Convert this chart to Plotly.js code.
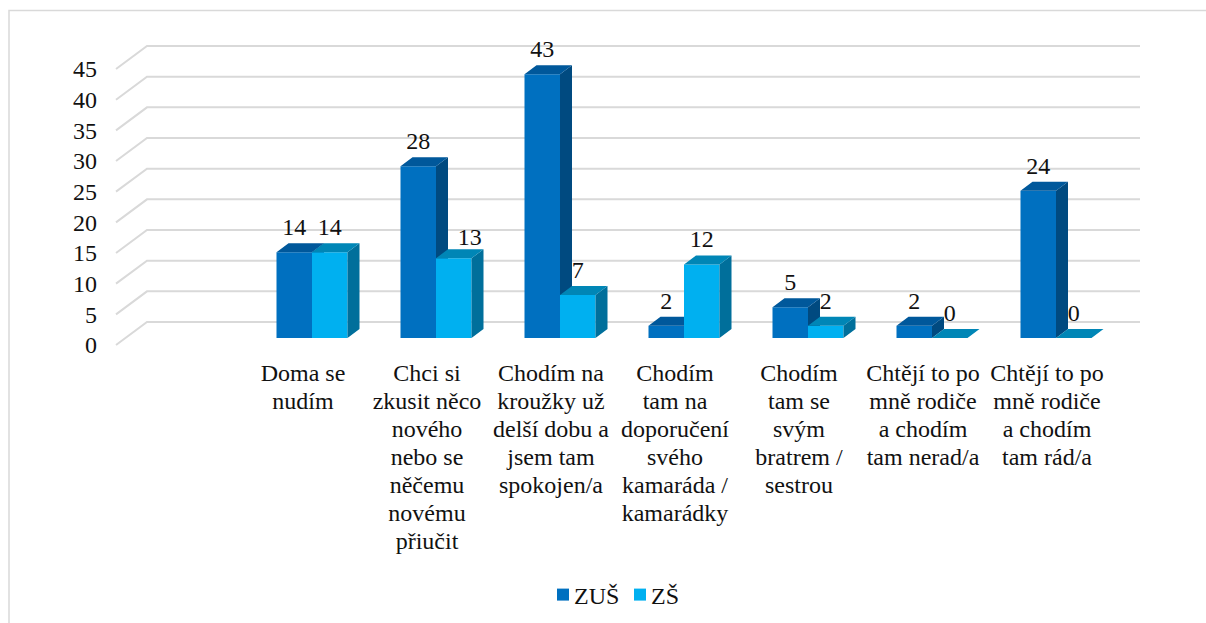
<!DOCTYPE html>
<html><head><meta charset="utf-8">
<script src="https://cdn.plot.ly/plotly-3.0.1.min.js"></script>
<style>html,body{margin:0;padding:0;background:#fff}#c{width:1206px;height:623px}</style>
</head><body><div id="c"></div>
<script>
const categories = [
  ["Doma se", "nudím"],
  ["Chci si", "zkusit něco", "nového", "nebo se", "něčemu", "novému", "přiučit"],
  ["Chodím na", "kroužky už", "delší dobu a", "jsem tam", "spokojen/a"],
  ["Chodím", "tam na", "doporučení", "svého", "kamaráda /", "kamarádky"],
  ["Chodím", "tam se", "svým", "bratrem /", "sestrou"],
  ["Chtějí to po", "mně rodiče", "a chodím", "tam nerad/a"],
  ["Chtějí to po", "mně rodiče", "a chodím", "tam rád/a"]
];
const zus = [14, 28, 43, 2, 5, 2, 24];
const zs = [14, 13, 7, 12, 2, 0, 0];
const valueTicks = [0, 5, 10, 15, 20, 25, 30, 35, 40, 45];

// page geometry (pixels), turned into axis ranges below
const W = 1206, H = 623, pxCat = 124, pxVal = 6.133, x0 = 312;
const barBase = 338, wallBase = 345;
const barW = 35.5 / pxCat, depthX = 12 / pxCat, depthY = 9 / pxVal;
const wallDepthX = 31 / pxCat, wallDepthY = 23 / pxVal;
const wallLeft = (116 - x0) / pxCat, wallRight = (1140 - x0) / pxCat;
const labelLift = 23 / pxVal, catLabelShift = -9 / pxCat;
const catFirstLine = 374.5, catLineStep = 28;
const xRange = [-x0 / pxCat, (W - x0) / pxCat];
const yRange = base => [-(H - base) / pxVal, base / pxVal];
const font = "'Liberation Serif','Times New Roman',serif";
const textColor = '#111', fontSize = 24;
const idx = categories.map((_, i) => i);

function poly(vals, offset, faceFn) {
  const xs = [], ys = [];
  vals.forEach((v, i) => {
    faceFn(i + offset, v).forEach(p => { xs.push(p[0]); ys.push(p[1]); });
    xs.push(null); ys.push(null);
  });
  return {xs, ys};
}
const sideFace = (l, v) => [[l + barW, 0], [l + barW, v], [l + barW + depthX, v + depthY], [l + barW + depthX, depthY], [l + barW, 0]];
const topFace = (l, v) => [[l, v], [l + barW, v], [l + barW + depthX, v + depthY], [l + depthX, v + depthY], [l, v]];

function faceTrace(vals, offset, fn, color, yaxis) {
  const p = poly(vals, offset, fn);
  return {type: 'scatter', mode: 'lines', x: p.xs, y: p.ys, xaxis: 'x', yaxis, fill: 'toself', fillcolor: color,
    line: {width: 0, color}, hoverinfo: 'skip', showlegend: false};
}
function barTrace(name, vals, offset, color, yaxis) {
  return {type: 'bar', name, x: idx, y: vals, width: barW, offset, xaxis: 'x', yaxis,
    marker: {color, line: {width: 0}}, hoverinfo: 'x+y'};
}
function labelTrace(vals, offset, nudgeX, nudgeY) {
  return {type: 'scatter', mode: 'text', xaxis: 'x', yaxis: 'y3', showlegend: false, hoverinfo: 'skip',
    x: vals.map((v, i) => i + offset + barW / 2 + (nudgeX[i] || 0)),
    y: vals.map((v, i) => v + labelLift - (nudgeY[i] || 0)),
    text: vals.map(String), textposition: 'middle center', cliponaxis: false,
    textfont: {family: font, size: fontSize, color: textColor}};
}

const gridX = [], gridY = [];
valueTicks.forEach(v => {
  gridX.push(wallLeft, wallLeft + wallDepthX, wallRight, null);
  gridY.push(v, v + wallDepthY, v + wallDepthY, null);
});

const catX = [], catY = [], catT = [];
categories.forEach((lines, i) => lines.forEach((t, k) => {
  catX.push(i + catLabelShift);
  catY.push((barBase - (catFirstLine + k * catLineStep)) / pxVal);
  catT.push(t);
}));

const traces = [
  {type: 'scatter', mode: 'lines', x: gridX, y: gridY, xaxis: 'x', yaxis: 'y',
   line: {color: '#d9d9d9', width: 2}, hoverinfo: 'skip', showlegend: false},
  barTrace('ZUŠ', zus, -barW, '#0070C0', 'y2'),
  faceTrace(zus, -barW, sideFace, '#004A80', 'y2'),
  faceTrace(zus, -barW, topFace, '#00589B', 'y2'),
  barTrace('ZŠ', zs, 0, '#00B0F0', 'y3'),
  faceTrace(zs, 0, sideFace, '#006F9B', 'y3'),
  faceTrace(zs, 0, topFace, '#0086B6', 'y3'),
  labelTrace(zus, -barW, {}, {}),
  labelTrace(zs, 0, {1: 16 / pxCat}, {1: 4 / pxVal}),
  {type: 'scatter', mode: 'text', x: catX, y: catY, text: catT, xaxis: 'x', yaxis: 'y3', showlegend: false,
   hoverinfo: 'skip', textposition: 'middle center', cliponaxis: false,
   textfont: {family: font, size: fontSize, color: textColor}}
];

const layout = {
  width: W, height: H, margin: {l: 0, r: 0, t: 0, b: 0},
  paper_bgcolor: '#fff', plot_bgcolor: 'rgba(0,0,0,0)',
  showlegend: true,
  legend: {orientation: 'h', x: 618 / W, xanchor: 'center', y: (H - 595) / H, yanchor: 'middle',
    bgcolor: 'rgba(0,0,0,0)', font: {family: font, size: fontSize, color: textColor}},
  xaxis: {range: xRange, visible: false},
  yaxis: {range: yRange(wallBase), anchor: 'free', position: 97 / W, showgrid: false, zeroline: false, showline: false,
    tickmode: 'array', tickvals: valueTicks, ticks: '', tickfont: {family: font, size: fontSize, color: textColor}},
  yaxis2: {range: yRange(barBase), overlaying: 'y', visible: false},
  yaxis3: {range: yRange(barBase), overlaying: 'y', visible: false},
  shapes: [{type: 'path', xref: 'paper', yref: 'paper',
    path: `M ${9 / W} 0 L ${9 / W} ${1 - 10.5 / H} L 1 ${1 - 10.5 / H}`,
    line: {color: '#d9d9d9', width: 1.5}, layer: 'below'}]
};

// legend swatch positions and swatch-to-text gap of the reference
const legendSwatchX = [557, 634], legendTextGap = 5, swatchSize = 12;
Plotly.newPlot('c', traces, layout, {displayModeBar: false}).then(() => {
  document.querySelectorAll('#c .legend .traces').forEach((g, i) => {
    const path = g.querySelector('.legendpoints path');
    const txt = g.querySelector('.legendtext');
    const m = /translate\(([-\d.]+)[ ,]*([-\d.]*)\)/.exec(g.getAttribute('transform'));
    const dx = legendSwatchX[i] - path.getBoundingClientRect().left;
    g.setAttribute('transform', `translate(${parseFloat(m[1]) + dx},${parseFloat(m[2] || 0)})`);
    const swLeft = path.getBoundingClientRect().left;
    const shift = swLeft + swatchSize + legendTextGap - txt.getBoundingClientRect().left;
    txt.setAttribute('x', parseFloat(txt.getAttribute('x')) + shift);
  });
  const clip = document.querySelector('#c .legend .scrollbox');
  if (clip) clip.removeAttribute('clip-path');
  const lg = document.querySelector('#c .legend');
  if (lg) lg.style.overflow = 'visible';
});
</script></body></html>
